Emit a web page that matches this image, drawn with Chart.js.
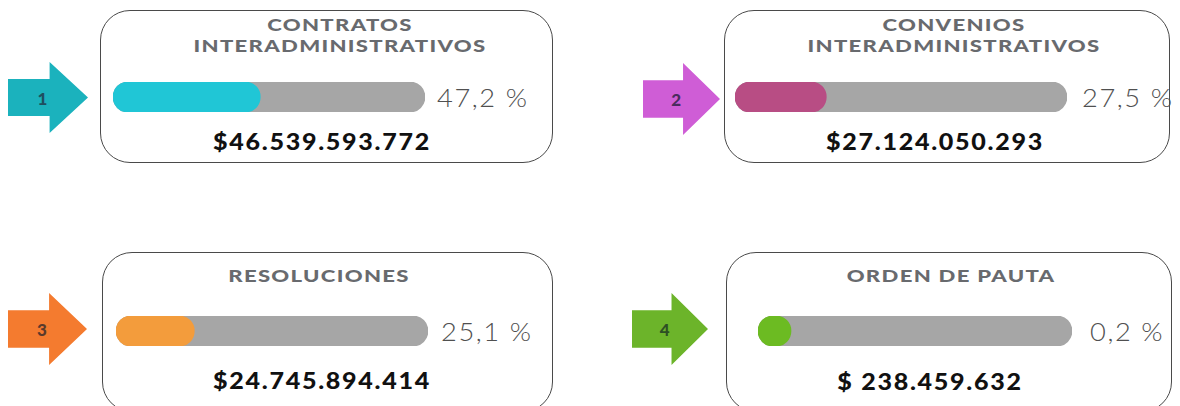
<!DOCTYPE html>
<html>
<head>
<meta charset="utf-8">
<script src="https://cdn.jsdelivr.net/npm/chart.js@4"></script>
<style>
  body { margin: 0; width: 1180px; height: 406px; background: #fff; overflow: hidden; position: relative; font-family: "Lato", "DejaVu Sans", sans-serif; }
  .box { position: absolute; border: 1.8px solid #4a4a4a; border-radius: 30px; box-sizing: border-box; }
  .arrow { position: absolute; clip-path: polygon(0% 24%, 52% 24%, 52% 0%, 100% 50%, 52% 100%, 52% 76%, 0% 76%); }
  .num { position: absolute; font: 900 17px "Lato", sans-serif; transform: translate(-50%, -50%); }
  .title { position: absolute; text-align: center; font: 900 17px "Lato", sans-serif; color: #686a6e; letter-spacing: 1px; line-height: 20.5px; transform: translateX(-50%) scaleX(1.3); white-space: nowrap; }
  .pct { position: absolute; font: 300 26px "Lato", sans-serif; color: #505050; letter-spacing: 1.5px; transform: translateY(-50%) scaleX(1.05); transform-origin: left center; white-space: nowrap; }
  .amt { position: absolute; font: 900 22px "Lato", sans-serif; color: #111; letter-spacing: 1.5px; transform: translate(-50%, -50%) scaleX(1.14); white-space: nowrap; }
  canvas { position: absolute; }
</style>
</head>
<body>
<script>
// datos
const categories = [["CONTRATOS", "INTERADMINISTRATIVOS"], ["CONVENIOS", "INTERADMINISTRATIVOS"], ["RESOLUCIONES"], ["ORDEN DE PAUTA"]];
const percentages = [47.2, 27.5, 25.1, 0.2];
const amountLabels = ["$46.539.593.772", "$27.124.050.293", "$24.745.894.414", "$ 238.459.632"];

// colores
const arrowColors = ["#1bb2bd", "#cf5dd6", "#f47b2f", "#6cb42a"];
const numColors = ["#1f4f5f", "#4a2c5e", "#5a3a2c", "#2d4f24"];
const barColors = ["#20c6d6", "#b84d84", "#f39c3c", "#6cbb22"];
const trackColor = "#a6a6a6";

// posiciones de cada tarjeta
const layout = [
  { box: [100, 10, 453, 153], arrow: [8, 62, 80, 71], bar: [113, 82, 312, 30], pct: 437, titleX: 340, titleY: 15, amtX: 322, amtY: 141 },
  { box: [724, 10, 446, 153], arrow: [643, 63, 77, 72], bar: [735, 82, 332, 30], pct: 1082, titleX: 954, titleY: 15, amtX: 935, amtY: 141 },
  { box: [102, 252, 451, 160], arrow: [8, 293, 79, 72], bar: [116, 316, 312, 30], pct: 441, titleX: 319, titleY: 266, amtX: 322, amtY: 380 },
  { box: [726, 252, 446, 160], arrow: [632, 293, 76, 72], bar: [758, 316, 314, 30], pct: 1090, titleX: 951, titleY: 266, amtX: 930, amtY: 381 }
];

function el(cls, css, text) {
  const d = document.createElement("div");
  d.className = cls;
  Object.assign(d.style, css);
  if (text !== undefined) d.innerHTML = text;
  document.body.appendChild(d);
  return d;
}

categories.forEach((cat, i) => {
  const L = layout[i];
  el("box", { left: L.box[0] + "px", top: L.box[1] + "px", width: L.box[2] + "px", height: L.box[3] + "px" });
  el("arrow", { left: L.arrow[0] + "px", top: L.arrow[1] + "px", width: L.arrow[2] + "px", height: L.arrow[3] + "px", background: arrowColors[i] });
  el("num", { left: (L.arrow[0] + L.arrow[2] * 0.43) + "px", top: (L.arrow[1] + L.arrow[3] / 2) + "px", color: numColors[i] }, String(i + 1));
  el("title", { left: L.titleX + "px", top: L.titleY + "px" }, cat.join("<br>"));
  el("pct", { left: L.pct + "px", top: (L.bar[1] + L.bar[3] / 2) + "px" }, percentages[i].toFixed(1).replace(".", ",") + " %");
  el("amt", { left: L.amtX + "px", top: L.amtY + "px" }, amountLabels[i]);

  const canvas = document.createElement("canvas");
  canvas.width = L.bar[2];
  canvas.height = L.bar[3];
  canvas.style.left = L.bar[0] + "px";
  canvas.style.top = L.bar[1] + "px";
  document.body.appendChild(canvas);

  new Chart(canvas.getContext("2d"), {
    type: "bar",
    data: {
      labels: [cat.join(" ")],
      datasets: [
        { data: [percentages[i]], backgroundColor: barColors[i], order: 0, minBarLength: 33 },
        { data: [100], backgroundColor: trackColor, order: 1 }
      ]
    },
    options: {
      indexAxis: "y",
      responsive: false,
      animation: false,
      layout: { padding: 0 },
      datasets: { bar: { grouped: false, barPercentage: 1, categoryPercentage: 1, borderRadius: 15, borderSkipped: false } },
      scales: {
        x: { display: false, min: 0, max: 100 },
        y: { display: false }
      },
      plugins: { legend: { display: false }, tooltip: { enabled: false } }
    }
  });
});
</script>
</body>
</html>
